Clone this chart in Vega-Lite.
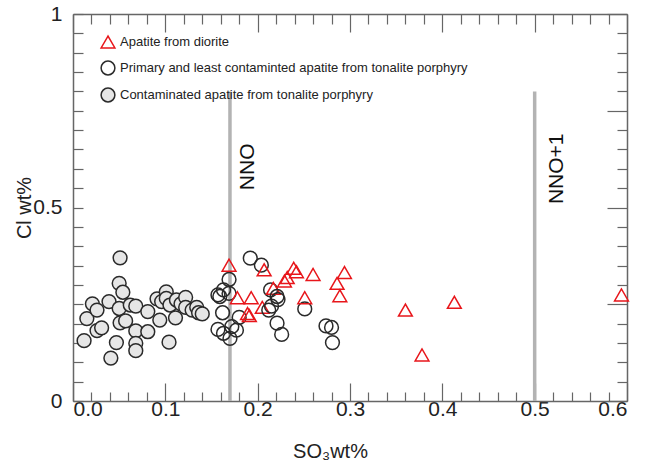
{
  "$schema": "https://vega.github.io/schema/vega-lite/v6.json",
  "width": 554,
  "height": 387,
  "autosize": "none",
  "padding": {"left": 73, "top": 14, "right": 19, "bottom": 66},
  "background": "white",
  "config": {
    "view": {"stroke": null},
    "font": "Liberation Sans",
    "axis": {"domainColor": "#666", "domainWidth": 1.5, "tickColor": "#666", "tickWidth": 1.2, "grid": false, "labelFont": "Liberation Sans", "titleFont": "Liberation Sans", "labelColor": "#222", "titleColor": "#222", "titleFontWeight": "normal"}
  },
  "datasets": {
    "pts": [
      {"x": 0.051, "y": 0.370, "g": "Contaminated apatite from tonalite porphyry"},
      {"x": 0.050, "y": 0.304, "g": "Contaminated apatite from tonalite porphyry"},
      {"x": 0.054, "y": 0.281, "g": "Contaminated apatite from tonalite porphyry"},
      {"x": 0.021, "y": 0.251, "g": "Contaminated apatite from tonalite porphyry"},
      {"x": 0.026, "y": 0.235, "g": "Contaminated apatite from tonalite porphyry"},
      {"x": 0.039, "y": 0.257, "g": "Contaminated apatite from tonalite porphyry"},
      {"x": 0.015, "y": 0.213, "g": "Contaminated apatite from tonalite porphyry"},
      {"x": 0.031, "y": 0.189, "g": "Contaminated apatite from tonalite porphyry"},
      {"x": 0.026, "y": 0.182, "g": "Contaminated apatite from tonalite porphyry"},
      {"x": 0.012, "y": 0.156, "g": "Contaminated apatite from tonalite porphyry"},
      {"x": 0.047, "y": 0.151, "g": "Contaminated apatite from tonalite porphyry"},
      {"x": 0.041, "y": 0.111, "g": "Contaminated apatite from tonalite porphyry"},
      {"x": 0.050, "y": 0.239, "g": "Contaminated apatite from tonalite porphyry"},
      {"x": 0.062, "y": 0.248, "g": "Contaminated apatite from tonalite porphyry"},
      {"x": 0.068, "y": 0.245, "g": "Contaminated apatite from tonalite porphyry"},
      {"x": 0.051, "y": 0.202, "g": "Contaminated apatite from tonalite porphyry"},
      {"x": 0.057, "y": 0.207, "g": "Contaminated apatite from tonalite porphyry"},
      {"x": 0.068, "y": 0.181, "g": "Contaminated apatite from tonalite porphyry"},
      {"x": 0.068, "y": 0.149, "g": "Contaminated apatite from tonalite porphyry"},
      {"x": 0.068, "y": 0.130, "g": "Contaminated apatite from tonalite porphyry"},
      {"x": 0.081, "y": 0.231, "g": "Contaminated apatite from tonalite porphyry"},
      {"x": 0.081, "y": 0.179, "g": "Contaminated apatite from tonalite porphyry"},
      {"x": 0.094, "y": 0.209, "g": "Contaminated apatite from tonalite porphyry"},
      {"x": 0.091, "y": 0.264, "g": "Contaminated apatite from tonalite porphyry"},
      {"x": 0.101, "y": 0.282, "g": "Contaminated apatite from tonalite porphyry"},
      {"x": 0.101, "y": 0.265, "g": "Contaminated apatite from tonalite porphyry"},
      {"x": 0.096, "y": 0.257, "g": "Contaminated apatite from tonalite porphyry"},
      {"x": 0.111, "y": 0.215, "g": "Contaminated apatite from tonalite porphyry"},
      {"x": 0.105, "y": 0.248, "g": "Contaminated apatite from tonalite porphyry"},
      {"x": 0.112, "y": 0.261, "g": "Contaminated apatite from tonalite porphyry"},
      {"x": 0.117, "y": 0.251, "g": "Contaminated apatite from tonalite porphyry"},
      {"x": 0.122, "y": 0.268, "g": "Contaminated apatite from tonalite porphyry"},
      {"x": 0.122, "y": 0.242, "g": "Contaminated apatite from tonalite porphyry"},
      {"x": 0.129, "y": 0.235, "g": "Contaminated apatite from tonalite porphyry"},
      {"x": 0.134, "y": 0.242, "g": "Contaminated apatite from tonalite porphyry"},
      {"x": 0.136, "y": 0.228, "g": "Contaminated apatite from tonalite porphyry"},
      {"x": 0.140, "y": 0.225, "g": "Contaminated apatite from tonalite porphyry"},
      {"x": 0.104, "y": 0.152, "g": "Contaminated apatite from tonalite porphyry"},
      {"x": 0.192, "y": 0.369, "g": "Primary and least contaminted apatite from tonalite porphyry"},
      {"x": 0.204, "y": 0.351, "g": "Primary and least contaminted apatite from tonalite porphyry"},
      {"x": 0.169, "y": 0.314, "g": "Primary and least contaminted apatite from tonalite porphyry"},
      {"x": 0.163, "y": 0.287, "g": "Primary and least contaminted apatite from tonalite porphyry"},
      {"x": 0.157, "y": 0.274, "g": "Primary and least contaminted apatite from tonalite porphyry"},
      {"x": 0.159, "y": 0.270, "g": "Primary and least contaminted apatite from tonalite porphyry"},
      {"x": 0.169, "y": 0.278, "g": "Primary and least contaminted apatite from tonalite porphyry"},
      {"x": 0.162, "y": 0.228, "g": "Primary and least contaminted apatite from tonalite porphyry"},
      {"x": 0.157, "y": 0.185, "g": "Primary and least contaminted apatite from tonalite porphyry"},
      {"x": 0.163, "y": 0.175, "g": "Primary and least contaminted apatite from tonalite porphyry"},
      {"x": 0.170, "y": 0.162, "g": "Primary and least contaminted apatite from tonalite porphyry"},
      {"x": 0.172, "y": 0.192, "g": "Primary and least contaminted apatite from tonalite porphyry"},
      {"x": 0.177, "y": 0.183, "g": "Primary and least contaminted apatite from tonalite porphyry"},
      {"x": 0.180, "y": 0.216, "g": "Primary and least contaminted apatite from tonalite porphyry"},
      {"x": 0.214, "y": 0.287, "g": "Primary and least contaminted apatite from tonalite porphyry"},
      {"x": 0.221, "y": 0.270, "g": "Primary and least contaminted apatite from tonalite porphyry"},
      {"x": 0.222, "y": 0.262, "g": "Primary and least contaminted apatite from tonalite porphyry"},
      {"x": 0.212, "y": 0.235, "g": "Primary and least contaminted apatite from tonalite porphyry"},
      {"x": 0.215, "y": 0.245, "g": "Primary and least contaminted apatite from tonalite porphyry"},
      {"x": 0.221, "y": 0.201, "g": "Primary and least contaminted apatite from tonalite porphyry"},
      {"x": 0.226, "y": 0.172, "g": "Primary and least contaminted apatite from tonalite porphyry"},
      {"x": 0.251, "y": 0.238, "g": "Primary and least contaminted apatite from tonalite porphyry"},
      {"x": 0.274, "y": 0.194, "g": "Primary and least contaminted apatite from tonalite porphyry"},
      {"x": 0.280, "y": 0.190, "g": "Primary and least contaminted apatite from tonalite porphyry"},
      {"x": 0.281, "y": 0.151, "g": "Primary and least contaminted apatite from tonalite porphyry"},
      {"x": 0.169, "y": 0.351, "g": "Apatite from diorite"},
      {"x": 0.178, "y": 0.267, "g": "Apatite from diorite"},
      {"x": 0.193, "y": 0.267, "g": "Apatite from diorite"},
      {"x": 0.189, "y": 0.226, "g": "Apatite from diorite"},
      {"x": 0.191, "y": 0.221, "g": "Apatite from diorite"},
      {"x": 0.207, "y": 0.339, "g": "Apatite from diorite"},
      {"x": 0.205, "y": 0.242, "g": "Apatite from diorite"},
      {"x": 0.217, "y": 0.291, "g": "Apatite from diorite"},
      {"x": 0.229, "y": 0.310, "g": "Apatite from diorite"},
      {"x": 0.232, "y": 0.319, "g": "Apatite from diorite"},
      {"x": 0.239, "y": 0.343, "g": "Apatite from diorite"},
      {"x": 0.242, "y": 0.334, "g": "Apatite from diorite"},
      {"x": 0.260, "y": 0.327, "g": "Apatite from diorite"},
      {"x": 0.251, "y": 0.267, "g": "Apatite from diorite"},
      {"x": 0.286, "y": 0.304, "g": "Apatite from diorite"},
      {"x": 0.289, "y": 0.272, "g": "Apatite from diorite"},
      {"x": 0.294, "y": 0.332, "g": "Apatite from diorite"},
      {"x": 0.360, "y": 0.235, "g": "Apatite from diorite"},
      {"x": 0.413, "y": 0.255, "g": "Apatite from diorite"},
      {"x": 0.378, "y": 0.119, "g": "Apatite from diorite"},
      {"x": 0.594, "y": 0.274, "g": "Apatite from diorite"}
    ],
    "lines": [
      {"x": 0.17, "y0": 0, "y1": 0.8, "label": "NNO", "lx": 0.19, "ly": 0.605},
      {"x": 0.5, "y0": 0, "y1": 0.8, "label": "NNO+1", "lx": 0.524, "ly": 0.6}
    ]
  },
  "resolve": {"axis": {"x": "independent", "y": "independent"}},
  "layer": [
    {
      "data": {"name": "lines"},
      "mark": {"type": "rule", "color": "#b3b3b3", "strokeWidth": 3.5},
      "encoding": {
        "x": {"field": "x", "type": "quantitative", "scale": {"domain": [0, 0.6], "nice": false, "zero": false},
          "axis": {"orient": "top", "title": null, "labels": false,
            "values": [0,0.02,0.04,0.06,0.08,0.1,0.12,0.14,0.16,0.18,0.2,0.22,0.24,0.26,0.28,0.3,0.32,0.34,0.36,0.38,0.4,0.42,0.44,0.46,0.48,0.5,0.52,0.54,0.56,0.58,0.6],
            "tickSize": {"condition": {"test": "abs(datum.value*10 - round(datum.value*10)) < 0.001", "value": -18}, "value": -10}}},
        "y": {"field": "y0", "type": "quantitative", "scale": {"domain": [0, 1], "nice": false},
          "axis": {"orient": "right", "title": null, "labels": false,
            "values": [0,0.05,0.1,0.15,0.2,0.25,0.3,0.35,0.4,0.45,0.5,0.55,0.6,0.65,0.7,0.75,0.8,0.85,0.9,0.95,1],
            "tickSize": {"condition": {"test": "abs(datum.value*4 - round(datum.value*4)) < 0.001", "value": -20}, "value": -10}}},
        "y2": {"field": "y1"}
      }
    },
    {
      "data": {"name": "lines"},
      "mark": {"type": "text", "angle": 270, "fontSize": 21, "font": "Liberation Sans", "color": "#111", "align": "center", "baseline": "middle"},
      "encoding": {
        "x": {"field": "lx", "type": "quantitative", "axis": null},
        "y": {"field": "ly", "type": "quantitative", "axis": null},
        "text": {"field": "label"}
      }
    },
    {
      "data": {"name": "pts"},
      "mark": {"type": "point", "filled": false, "strokeWidth": 1.5, "size": 190, "opacity": 1},
      "encoding": {
        "x": {"field": "x", "type": "quantitative",
          "axis": {"orient": "bottom", "title": "SO₃wt%", "titleFontSize": 20, "titlePadding": 22, "titleX": 257, "labelFontSize": 21, "labelPadding": 15,
            "values": [0,0.02,0.04,0.06,0.08,0.1,0.12,0.14,0.16,0.18,0.2,0.22,0.24,0.26,0.28,0.3,0.32,0.34,0.36,0.38,0.4,0.42,0.44,0.46,0.48,0.5,0.52,0.54,0.56,0.58,0.6],
            "labelExpr": "abs(datum.value*10 - round(datum.value*10)) < 0.001 ? format(datum.value, '.1f') : ''",
            "tickSize": {"condition": {"test": "abs(datum.value*10 - round(datum.value*10)) < 0.001", "value": -18}, "value": -9}}},
        "y": {"field": "y", "type": "quantitative",
          "axis": {"orient": "left", "title": "Cl wt%", "titleFontSize": 20, "titlePadding": -2, "labelFontSize": 21, "labelPadding": 21,
            "values": [0,0.05,0.1,0.15,0.2,0.25,0.3,0.35,0.4,0.45,0.5,0.55,0.6,0.65,0.7,0.75,0.8,0.85,0.9,0.95,1],
            "labelExpr": "datum.value == 0 ? '0' : datum.value == 1 ? '1' : datum.value == 0.5 ? '0.5' : ''",
            "tickSize": -10}},
        "shape": {"field": "g", "type": "nominal", "sort": null,
          "scale": {"domain": ["Apatite from diorite", "Primary and least contaminted apatite from tonalite porphyry", "Contaminated apatite from tonalite porphyry"], "range": ["triangle-up", "circle", "circle"]},
          "legend": {"orient": "none", "legendX": 27, "legendY": 20, "title": null, "labelFontSize": 13, "labelLimit": 0, "labelFont": "Liberation Sans", "labelColor": "#222", "symbolSize": 190, "symbolStrokeWidth": 1.5, "rowPadding": 7, "labelOffset": 4, "padding": 0}},
        "stroke": {"field": "g", "type": "nominal",
          "scale": {"domain": ["Apatite from diorite", "Primary and least contaminted apatite from tonalite porphyry", "Contaminated apatite from tonalite porphyry"], "range": ["#e8161b", "#2a2a2a", "#2a2a2a"]}},
        "fill": {"field": "g", "type": "nominal",
          "scale": {"domain": ["Apatite from diorite", "Primary and least contaminted apatite from tonalite porphyry", "Contaminated apatite from tonalite porphyry"], "range": ["transparent", "transparent", "#e6e6e6"]}},
        "order": {"field": "x", "type": "quantitative"}
      }
    }
  ]
}
